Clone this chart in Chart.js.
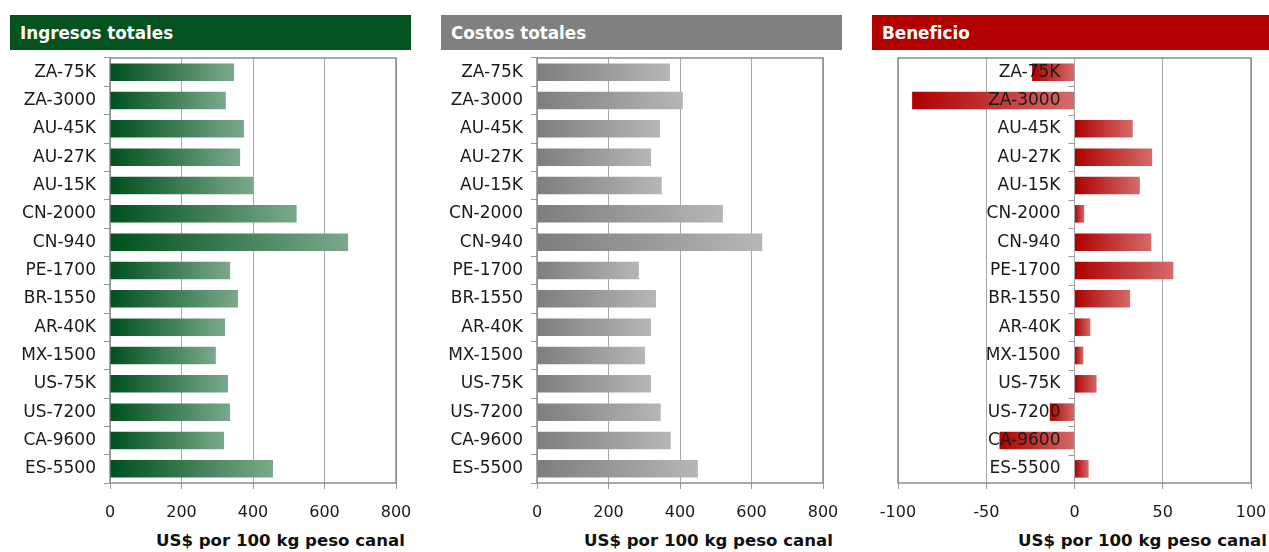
<!DOCTYPE html>
<html lang="es">
<head>
<meta charset="utf-8">
<title>Ingresos, costos y beneficio</title>
<script src="https://cdn.jsdelivr.net/npm/chart.js@4.4.1/dist/chart.umd.min.js"></script>
<style>
  html, body { margin: 0; padding: 0; background: #ffffff; }
  body { position: relative; width: 1269px; height: 552px; overflow: hidden; font-family: "DejaVu Sans", Verdana, sans-serif; }
  .hdr { position: absolute; top: 15px; height: 35px; line-height: 36px; color: #ffffff; font-weight: bold; font-size: 16.8px; padding-left: 10px; box-sizing: border-box; }
  .xt { position: absolute; top: 531px; height: 20px; line-height: 20px; font-weight: bold; font-size: 16.6px; color: #111111; text-align: right; white-space: nowrap; }
  canvas { position: absolute; top: 50px; }
</style>
</head>
<body>
<div class="hdr" style="left:10px;width:401px;background:#04521f;">Ingresos totales</div>
<div class="hdr" style="left:441px;width:401px;background:#808080;">Costos totales</div>
<div class="hdr" style="left:872px;width:397px;background:#b20000;">Beneficio</div>

<canvas id="cIng" width="415" height="468" style="left:0px;"></canvas>
<canvas id="cCos" width="415" height="468" style="left:430px;"></canvas>
<canvas id="cBen" width="409" height="468" style="left:860px;"></canvas>

<div class="xt" style="left:100px;width:305px;">US$ por 100 kg peso canal</div>
<div class="xt" style="left:530px;width:303px;">US$ por 100 kg peso canal</div>
<div class="xt" style="left:960px;width:307px;">US$ por 100 kg peso canal</div>

<script>
// Farm types (country code - herd size)
const farms = ['ZA-75K', 'ZA-3000', 'AU-45K', 'AU-27K', 'AU-15K', 'CN-2000', 'CN-940',
               'PE-1700', 'BR-1550', 'AR-40K', 'MX-1500', 'US-75K', 'US-7200', 'CA-9600', 'ES-5500'];

// US$ per 100 kg carcass weight
const ingresosTotales = [347, 324, 375, 364, 401, 522, 666, 336, 358, 322, 296, 330, 336, 319, 456];
const costosTotales   = [372, 408, 344, 319, 349, 520, 630, 285, 333, 319, 302, 319, 346, 374, 450];
const beneficio       = [-24, -92, 33, 44, 37, 5.5, 43.5, 56, 31.5, 9, 5, 12.5, -14, -42.5, 8];

// Axis ticks
const ticksCost = [0, 200, 400, 600, 800];
const ticksProfit = [-100, -50, 0, 50, 100];

const FONT = '"DejaVu Sans", Verdana, sans-serif';
Chart.defaults.font.family = FONT;
Chart.defaults.font.size = 16;
Chart.defaults.color = '#1a1a1a';

// Horizontal gradient spanning each bar from its left edge to its right edge
function barGradient(dark, light) {
  return function (context) {
    const chart = context.chart;
    if (!chart.chartArea || context.type !== 'data') return dark;
    const xs = chart.scales.x;
    const a = xs.getPixelForValue(0);
    const b = xs.getPixelForValue(context.raw);
    const left = Math.min(a, b), right = Math.max(a, b);
    if (right - left < 1) return dark;
    const g = chart.ctx.createLinearGradient(left, 0, right, 0);
    g.addColorStop(0, dark);
    g.addColorStop(1, light);
    return g;
  };
}

// Gray frame around the plotting area
const frame = {
  id: 'frame',
  beforeDatasetsDraw(chart) {
    const { ctx, chartArea: c } = chart;
    ctx.save();
    ctx.strokeStyle = '#8c8c8c';
    ctx.lineWidth = 1.5;
    ctx.strokeRect(c.left, c.top, c.right - c.left, c.bottom - c.top);
    ctx.restore();
  }
};

// Category labels and tick marks sitting on the zero line
const zeroAxisLabels = {
  id: 'zeroAxisLabels',
  afterDatasetsDraw(chart) {
    const { ctx, chartArea: c } = chart;
    const xs = chart.scales.x, ys = chart.scales.y;
    const x0 = xs.getPixelForValue(0);
    const n = farms.length;
    const step = (c.bottom - c.top) / n;
    ctx.save();
    ctx.strokeStyle = '#999999';
    ctx.lineWidth = 1;
    ctx.beginPath();
    for (let k = 1; k < n; k++) {
      const y = Math.round(c.top + k * step) + 0.5;
      ctx.moveTo(x0 - 6, y);
      ctx.lineTo(x0, y);
    }
    ctx.stroke();
    ctx.fillStyle = '#1a1a1a';
    ctx.font = '17px ' + FONT;
    ctx.textAlign = 'right';
    ctx.textBaseline = 'middle';
    farms.forEach((label, i) => {
      ctx.fillText(label, x0 - 14, ys.getPixelForValue(i));
    });
    ctx.restore();
  }
};

function makeChart(id, values, dark, light, xMin, xMax, tickList, pad, yWidth, labelsOnZero) {
  return new Chart(document.getElementById(id), {
    type: 'bar',
    data: {
      labels: farms,
      datasets: [{
        data: values,
        backgroundColor: barGradient(dark, light),
        borderWidth: 0,
        categoryPercentage: 1,
        barPercentage: 0.62
      }]
    },
    options: {
      indexAxis: 'y',
      responsive: false,
      animation: false,
      devicePixelRatio: 1,
      layout: { padding: pad },
      plugins: { legend: { display: false }, tooltip: { enabled: false } },
      scales: {
        x: {
          min: xMin,
          max: xMax,
          afterBuildTicks(scale) { scale.ticks = tickList.map(v => ({ value: v })); },
          ticks: { padding: 14, color: '#1a1a1a', font: { size: 16 } },
          grid: { color: '#a6a6a6', lineWidth: 1, tickLength: 6, tickColor: '#999999' },
          border: { display: false },
          afterFit(scale) {
            scale.height = 35;
            scale.paddingLeft = 0;
            scale.paddingRight = 0;
          }
        },
        y: {
          display: !labelsOnZero,
          ticks: { padding: 8, color: '#1a1a1a', font: { size: 17 } },
          grid: { drawOnChartArea: false, tickLength: 6, color: '#999999', offset: true },
          border: { display: false },
          afterFit(scale) {
            scale.width = yWidth;
            scale.paddingTop = 0;
            scale.paddingBottom = 0;
          }
        }
      }
    },
    plugins: labelsOnZero ? [frame, zeroAxisLabels] : [frame]
  });
}

makeChart('cIng', ingresosTotales, '#00501e', '#7aa98b', 0, 800, ticksCost,
  { top: 8, right: 19, left: 0, bottom: 0 }, 110, false);
makeChart('cCos', costosTotales, '#7d7d7d', '#b6b6b6', 0, 800, ticksCost,
  { top: 8, right: 22, left: 0, bottom: 0 }, 107, false);
makeChart('cBen', beneficio, '#b00000', '#d46b6b', -100, 100, ticksProfit,
  { top: 8, right: 18, left: 38, bottom: 0 }, 0, true);
</script>
</body>
</html>
